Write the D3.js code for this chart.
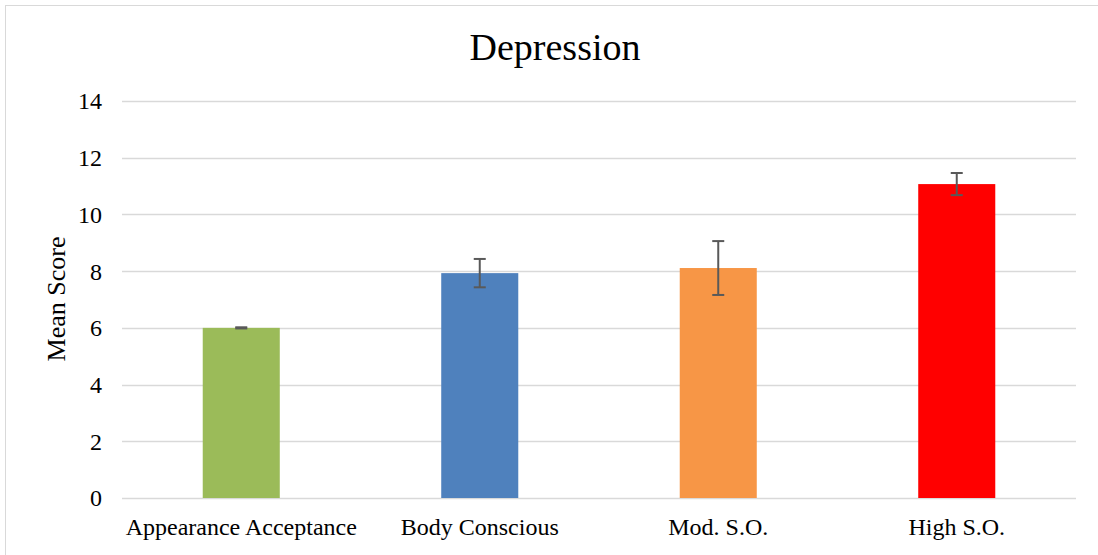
<!DOCTYPE html>
<html>
<head>
<meta charset="utf-8">
<script src="https://cdn.jsdelivr.net/npm/d3@7"></script>
<style>
  body { margin: 0; background: #fff; }
  text { font-family: "Liberation Serif", "Times New Roman", serif; fill: #000; }
</style>
</head>
<body>
<div id="chart"></div>
<script>
const categories = ["Appearance Acceptance", "Body Conscious", "Mod. S.O.", "High S.O."];
const means = [6.0, 7.93, 8.11, 11.07];
const errors = [0.02, 0.5, 0.95, 0.39];
const barColors = ["#9bbb59", "#4f81bd", "#f79646", "#ff0000"];
const yTicks = [0, 2, 4, 6, 8, 10, 12, 14];

const W = 1098, H = 555;
const margin = {top: 101, right: 22, bottom: 57, left: 122};
const width = W - margin.left - margin.right,
      height = H - margin.top - margin.bottom;

const root = d3.select("#chart").append("svg")
    .attr("width", W)
    .attr("height", H);

// chart frame
root.append("rect")
    .attr("x", 5.5).attr("y", 5.5)
    .attr("width", W).attr("height", H)
    .attr("fill", "#fff")
    .attr("stroke", "#d9d9d9");

root.append("text")
    .attr("x", 555).attr("y", 60)
    .attr("text-anchor", "middle")
    .style("font-size", "38px")
    .text("Depression");

const svg = root.append("g")
    .attr("transform", `translate(${margin.left},${margin.top})`);

const x = d3.scaleBand()
    .domain(categories)
    .range([0, width])
    .paddingInner(0.677)
    .paddingOuter(0.3385);

const y = d3.scaleLinear()
    .domain([0, 14])
    .range([height, 0]);

// gridlines
svg.selectAll(".grid")
    .data(yTicks)
    .join("line")
    .attr("x1", 0).attr("x2", width)
    .attr("y1", d => Math.round(y(d)) + 0.5)
    .attr("y2", d => Math.round(y(d)) + 0.5)
    .attr("stroke", "#d9d9d9")
    .attr("stroke-width", 1.5);

// y tick labels
svg.selectAll(".ylab")
    .data(yTicks)
    .join("text")
    .attr("x", -20)
    .attr("y", d => y(d))
    .attr("dy", "0.35em")
    .attr("text-anchor", "end")
    .style("font-size", "24px")
    .text(d => d);

// bars
svg.selectAll(".bar")
    .data(categories)
    .join("rect")
    .attr("x", d => x(d))
    .attr("width", x.bandwidth())
    .attr("y", (d, i) => y(means[i]))
    .attr("height", (d, i) => height - y(means[i]))
    .attr("fill", (d, i) => barColors[i]);

// error bars
const eb = svg.selectAll(".err")
    .data(categories)
    .join("g")
    .attr("stroke", "#595959")
    .attr("stroke-width", 2);

eb.append("line")
    .attr("x1", d => x(d) + x.bandwidth() / 2)
    .attr("x2", d => x(d) + x.bandwidth() / 2)
    .attr("y1", (d, i) => y(means[i] + errors[i]))
    .attr("y2", (d, i) => y(means[i] - errors[i]));

[1, -1].forEach(s => {
  eb.append("line")
      .attr("x1", d => x(d) + x.bandwidth() / 2 - 6)
      .attr("x2", d => x(d) + x.bandwidth() / 2 + 6)
      .attr("y1", (d, i) => y(means[i] + s * errors[i]))
      .attr("y2", (d, i) => y(means[i] + s * errors[i]));
});

// x labels
svg.selectAll(".xlab")
    .data(categories)
    .join("text")
    .attr("x", d => x(d) + x.bandwidth() / 2)
    .attr("y", height + 37)
    .attr("text-anchor", "middle")
    .style("font-size", "24px")
    .text(d => d);

// y axis title
root.append("text")
    .attr("transform", "translate(65,299) rotate(-90)")
    .attr("text-anchor", "middle")
    .style("font-size", "26px")
    .text("Mean Score");
</script>
</body>
</html>
